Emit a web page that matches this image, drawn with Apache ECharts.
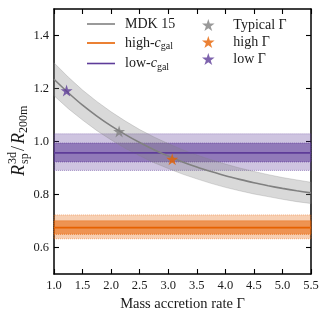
<!DOCTYPE html>
<html>
<head>
<meta charset="utf-8">
<script src="https://cdn.jsdelivr.net/npm/echarts@6/dist/echarts.min.js"></script>
<style>
html,body{margin:0;padding:0;background:#fff;}
#chart{width:328px;height:319px;}
</style>
</head>
<body>
<div id="chart"></div>
<script>
// ---- data ----
const gammaGrid = [1.0,1.25,1.5,1.75,2.0,2.25,2.5,2.75,3.0,3.25,3.5,3.75,4.0,4.25,4.5,4.75,5.0,5.25,5.5];
const mdkMedian = [1.235,1.184,1.137,1.096,1.059,1.026,0.996,0.969,0.945,0.923,0.904,0.887,0.871,0.857,0.844,0.833,0.823,0.814,0.806];
const mdkUpper  = [1.297,1.243,1.194,1.151,1.112,1.077,1.045,1.017,0.992,0.969,0.949,0.931,0.915,0.900,0.887,0.875,0.864,0.855,0.846];
const mdkLower  = [1.173,1.124,1.081,1.041,1.006,0.974,0.946,0.920,0.898,0.877,0.859,0.842,0.827,0.814,0.802,0.792,0.782,0.773,0.766];
// horizontal bands: [outerLow, innerLow, median, innerHigh, outerHigh]
const highCgalLevels = [0.633,0.650,0.675,0.701,0.723];
const lowCgalLevels  = [0.891,0.923,0.957,0.994,1.029];
const lineNames = ['MDK 15','high-cgal','low-cgal'];
const starNames = ['Typical Γ','high Γ','low Γ'];
const starGamma = [2.14,3.07,1.22];
const starRatio = [1.038,0.933,1.192];
const xTicks = [1.0,1.5,2.0,2.5,3.0,3.5,4.0,4.5,5.0,5.5];
const yTicks = [0.6,0.8,1.0,1.2,1.4];

const FONT = '"Liberation Serif", "DejaVu Serif", serif';
const TXT = '#1a1a1a';
const STAR = 'path://M50,0 L61.2,34.5 L97.6,34.5 L68.2,55.9 L79.4,90.5 L50,69.1 L20.6,90.5 L31.8,55.9 L2.4,34.5 L38.8,34.5 Z';
const LINE_ICON = 'path://M0,0 L28,0 L28,1.6 L0,1.6 Z';
const starColors = ['#808080','#e66101','#5e3c99'];

const chart = echarts.init(document.getElementById('chart'), null, {renderer:'canvas'});

function bandSeries(name, levels, rgb) {
  const xmin = gammaGrid[0], xmax = gammaGrid[gammaGrid.length-1];
  return {
    name: name, type: 'line', symbol: 'none', silent: true, z: 3,
    data: [[xmin, levels[2]], [xmax, levels[2]]],
    lineStyle: {color: 'rgb(' + rgb + ')', width: 1.6},
    itemStyle: {color: 'rgb(' + rgb + ')'},
    markArea: {
      silent: true,
      data: [
        [{yAxis: levels[0], itemStyle: {color: 'rgba(' + rgb + ',0.3)', borderColor: 'rgba(' + rgb + ',0.45)', borderWidth: 1, borderType: 'dotted'}}, {yAxis: levels[4]}],
        [{yAxis: levels[1], itemStyle: {color: 'rgba(' + rgb + ',0.55)', borderColor: 'rgba(' + rgb + ',0.7)', borderWidth: 1, borderType: 'dotted'}}, {yAxis: levels[3]}]
      ]
    }
  };
}

const legendFormatter = function(name) {
  if (name === 'high-cgal') return '{n|high-}{i|c}{s|gal}';
  if (name === 'low-cgal') return '{n|low-}{i|c}{s|gal}';
  return '{n|' + name + '}';
};
const legendRich = {
  n: {fontFamily: FONT, fontSize: 14, color: TXT, lineHeight: 16},
  i: {fontFamily: FONT, fontSize: 14, fontStyle: 'italic', color: TXT, lineHeight: 16},
  s: {fontFamily: FONT, fontSize: 10, color: TXT, lineHeight: 16, padding: [7, 0, 0, 0]}
};
const axisLineStyle = {color: '#000', width: 1.5};
const tickStyle = {color: '#000', width: 1.1};

const option = {
  animation: false,
  grid: {left: 54, right: 17, top: 9, bottom: 45},
  xAxis: [
    {type: 'value', min: 1.0, max: 5.5, interval: 0.5, position: 'bottom',
     name: 'Mass accretion rate Γ', nameLocation: 'middle', nameGap: 21,
     nameTextStyle: {fontFamily: FONT, fontSize: 14.5, color: TXT},
     axisLine: {lineStyle: axisLineStyle},
     axisTick: {inside: true, length: 5, lineStyle: tickStyle, customValues: xTicks},
     axisLabel: {fontFamily: FONT, fontSize: 12.5, color: TXT, margin: 5, customValues: xTicks, formatter: v => v.toFixed(1)},
     splitLine: {show: false}},
    {type: 'value', min: 1.0, max: 5.5, interval: 0.5, position: 'top',
     axisLine: {lineStyle: axisLineStyle},
     axisTick: {inside: true, length: 5, lineStyle: tickStyle, customValues: xTicks},
     axisLabel: {show: false}, splitLine: {show: false}}
  ],
  yAxis: [
    {type: 'value', min: 0.5, max: 1.5, position: 'left',
     axisLine: {show: true, lineStyle: axisLineStyle},
     axisTick: {show: true, inside: true, length: 5, lineStyle: tickStyle, customValues: yTicks},
     axisLabel: {fontFamily: FONT, fontSize: 12.5, color: TXT, margin: 5, customValues: yTicks, formatter: v => v.toFixed(1)},
     splitLine: {show: false}},
    {type: 'value', min: 0.5, max: 1.5, position: 'right',
     axisLine: {show: true, lineStyle: axisLineStyle},
     axisTick: {show: true, inside: true, length: 5, lineStyle: tickStyle, customValues: yTicks},
     axisLabel: {show: false}, splitLine: {show: false}}
  ],
  legend: [
    {data: lineNames.map(nm => ({name: nm, icon: LINE_ICON})), orient: 'vertical', left: 87, top: 17,
     itemWidth: 28, itemHeight: 12, itemGap: 3.5, selectedMode: false, padding: 0,
     formatter: legendFormatter, textStyle: {rich: legendRich, padding: [0, 0, 0, 5]}},
    {data: starNames.map(nm => ({name: nm, icon: STAR})), orient: 'vertical', left: 202, top: 18,
     itemWidth: 28, itemHeight: 12, itemGap: 3, selectedMode: false, padding: 0,
     formatter: legendFormatter, textStyle: {rich: legendRich, padding: [0, 0, 0, 6]}}
  ],
  graphic: [{
    type: 'group', x: 19, y: 140, rotation: Math.PI / 2, silent: true,
    children: [
      {type: 'text', x: -36, y: 0, style: {text: 'R', font: 'italic 18px ' + FONT, fill: TXT, verticalAlign: 'middle'}},
      {type: 'text', x: -24, y: -6, style: {text: '3d', font: '12px ' + FONT, fill: TXT, verticalAlign: 'middle'}},
      {type: 'text', x: -24, y: 6, style: {text: 'sp', font: '12px ' + FONT, fill: TXT, verticalAlign: 'middle'}},
      {type: 'text', x: -11, y: 0, style: {text: '/', font: '18px ' + FONT, fill: TXT, verticalAlign: 'middle'}},
      {type: 'text', x: -4, y: 0, style: {text: 'R', font: 'italic 18px ' + FONT, fill: TXT, verticalAlign: 'middle'}},
      {type: 'text', x: 7, y: 5, style: {text: '200m', font: '12px ' + FONT, fill: TXT, verticalAlign: 'middle'}}
    ]
  }],
  series: [
    {
      name: 'MDKband', type: 'custom', silent: true, z: 1,
      data: [0],
      renderItem: function(params, api) {
        const pts = [];
        for (let k = 0; k < gammaGrid.length; k++) pts.push(api.coord([gammaGrid[k], mdkUpper[k]]));
        for (let k = gammaGrid.length - 1; k >= 0; k--) pts.push(api.coord([gammaGrid[k], mdkLower[k]]));
        return {type: 'polygon', shape: {points: pts}, style: {fill: 'rgba(128,128,128,0.3)', stroke: 'rgba(128,128,128,0.35)', lineWidth: 0.8}};
      }
    },
    {
      name: 'MDK 15', type: 'line', symbol: 'none', smooth: 0.3, silent: true, z: 4,
      data: gammaGrid.map((g, k) => [g, mdkMedian[k]]),
      lineStyle: {color: '#808080', width: 1.6}, itemStyle: {color: '#808080'}
    },
    bandSeries('low-cgal', lowCgalLevels, '94,60,153'),
    bandSeries('high-cgal', highCgalLevels, '230,97,1'),
  ].concat(starNames.map((nm, k) => ({
    name: nm, type: 'scatter', symbol: STAR, symbolSize: 12, z: 6, silent: true,
    data: [[starGamma[k], starRatio[k]]],
    itemStyle: {color: starColors[k]}
  })))
};
chart.setOption(option);
</script>
</body>
</html>
